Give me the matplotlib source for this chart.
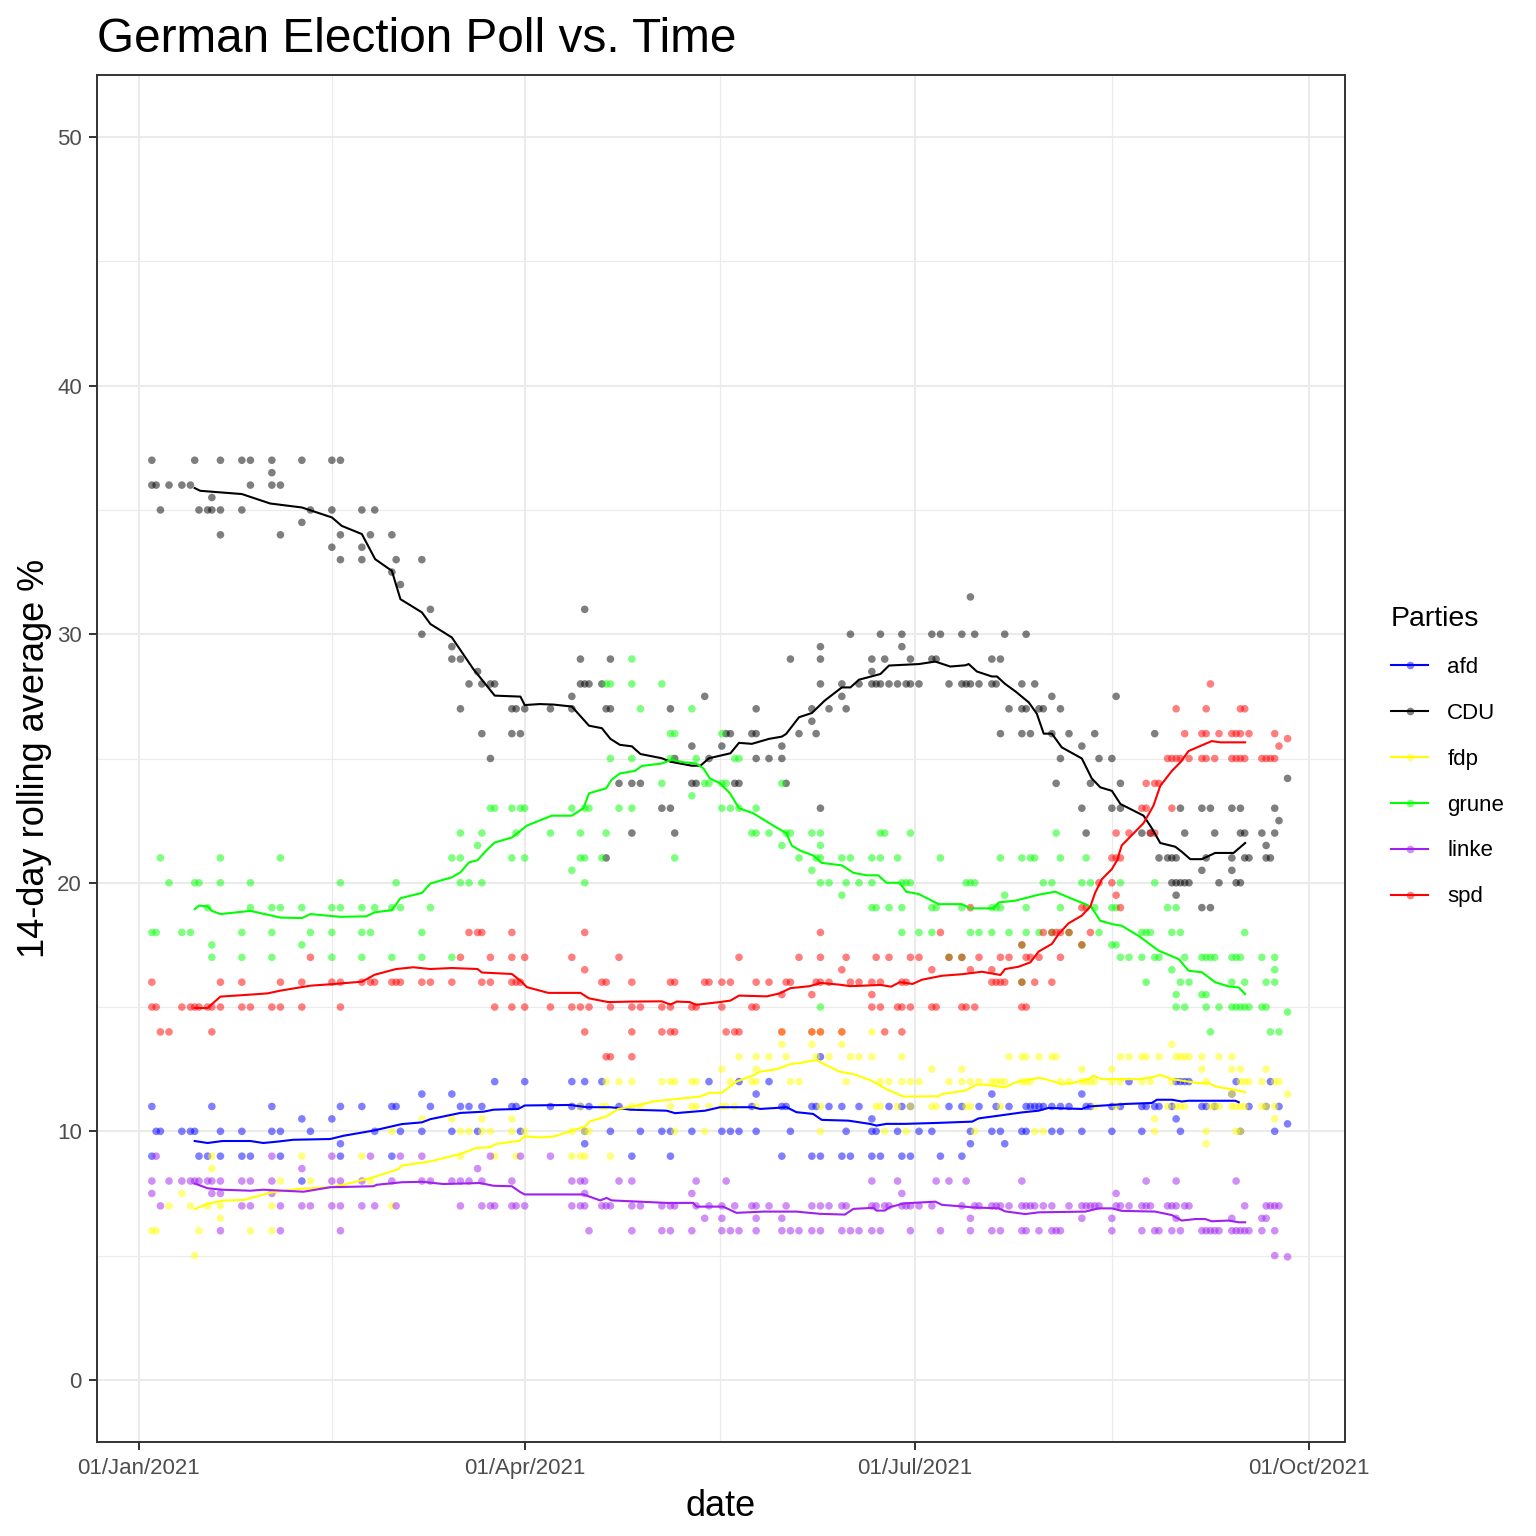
import numpy as np
import pandas as pd
import matplotlib
matplotlib.use("Agg")
import matplotlib.pyplot as plt
import matplotlib.dates as mdates
from matplotlib.lines import Line2D

plt.rcParams["font.family"] = ["Liberation Sans", "DejaVu Sans"]

# poll results: {poll value: [days after 01/Jan/2021]}
afd_polls = {
    13: [159],
    12: [83, 90, 101, 104, 108, 133, 140, 147, 231, 242, 243, 244, 245, 256, 264],
    11.5: [66, 73, 144, 199, 220, 255],
    11: [3, 17, 31, 47, 52, 59, 60, 68, 75, 77, 80, 87, 88, 96, 101, 103, 105, 112, 143, 150,
         151, 157, 158, 161, 164, 168, 175, 178, 180, 189, 192, 196, 200, 203, 207, 208, 209,
         210, 211, 213, 215, 217, 221, 222, 227, 229, 234, 235, 237, 238, 241, 248, 249, 251,
         259, 263, 266],
    10.5: [38, 45, 171, 242],
    10.3: [268],
    10: [4, 5, 10, 12, 13, 19, 24, 31, 33, 40, 55, 61, 66, 73, 79, 89, 104, 110, 117, 122, 124,
         129, 136, 138, 140, 144, 152, 165, 171, 172, 177, 182, 185, 194, 199, 201, 206, 207,
         213, 215, 220, 227, 234, 243, 257, 265],
    9.5: [47, 104, 194, 202],
    9: [3, 14, 16, 19, 24, 26, 33, 47, 59, 115, 124, 150, 157, 159, 164, 166, 171, 173, 178,
        180, 187, 192],
    8: [38],
}

cdu_polls = {
    37: [3, 13, 19, 24, 26, 31, 38, 45, 47],
    36.5: [31],
    36: [3, 4, 7, 10, 12, 26, 31, 33],
    35.5: [17],
    35: [5, 14, 16, 17, 19, 24, 40, 45, 52, 55],
    34.5: [38],
    34: [19, 33, 47, 54, 59],
    33.5: [45, 52],
    33: [47, 52, 60, 66],
    32.5: [59],
    32: [61],
    31.5: [194],
    31: [68, 104],
    30: [66, 166, 173, 178, 185, 187, 192, 195, 202, 207],
    29.5: [73, 159, 178],
    29: [73, 75, 103, 110, 152, 159, 171, 174, 180, 185, 186, 199, 201],
    28.5: [79, 171],
    28: [77, 80, 82, 83, 103, 104, 105, 108, 159, 164, 168, 171, 172, 173, 175, 177, 179, 180,
         182, 189, 192, 193, 194, 196, 199, 200, 206, 209],
    27.5: [101, 132, 164, 213, 228],
    27: [75, 87, 88, 90, 96, 101, 109, 110, 124, 144, 157, 161, 165, 203, 206, 207, 210, 211, 215],
    26.5: [157],
    26: [80, 87, 89, 137, 138, 143, 144, 154, 158, 201, 206, 208, 213, 217, 223, 237],
    25.5: [129, 136, 150, 220],
    25: [82, 125, 133, 144, 147, 150, 215, 224, 227],
    24.2: [268],
    24: [112, 115, 117, 129, 130, 139, 140, 151, 214, 222, 229],
    23: [122, 124, 159, 220, 227, 229, 243, 248, 250, 255, 257, 265],
    22.5: [266],
    22: [115, 125, 221, 234, 236, 244, 251, 257, 258, 262, 265],
    21.5: [263],
    21: [109, 238, 240, 241, 242, 249, 255, 258, 259, 263, 264],
    20.5: [248, 255],
    20: [241, 242, 243, 244, 245, 252, 256, 257],
    19.5: [242],
    19: [248, 250],
}

fdp_polls = {
    14: [150, 157, 159, 164, 171],
    13.5: [150, 157, 164, 241],
    13: [140, 144, 147, 151, 158, 161, 166, 168, 171, 178, 203, 206, 207, 210, 213, 214, 229,
         231, 234, 235, 238, 242, 243, 244, 245, 248, 252, 255],
    12.5: [136, 144, 185, 192, 220, 227, 248, 255, 257, 263],
    12: [109, 112, 115, 122, 124, 125, 129, 130, 138, 143, 144, 152, 154, 165, 173, 175, 178,
         180, 182, 189, 192, 194, 196, 199, 200, 201, 202, 206, 207, 208, 215, 217, 220, 221,
         222, 223, 227, 229, 234, 236, 241, 249, 257, 258, 259, 262, 265, 266],
    11.5: [255, 268],
    11: [103, 108, 109, 115, 117, 124, 129, 130, 133, 136, 137, 139, 144, 159, 172, 173, 177,
         180, 185, 186, 193, 194, 201, 223, 228, 240, 242, 243, 244, 250, 251, 252, 255, 256,
         257, 258, 262, 263, 265],
    10.5: [66, 73, 80, 87, 237, 265],
    10: [59, 75, 77, 80, 82, 87, 90, 101, 104, 105, 125, 132, 159, 174, 179, 195, 209, 211,
         237, 249, 256, 257],
    9.5: [249],
    9: [17, 38, 52, 75, 83, 88, 101, 103, 104, 110],
    8.5: [17],
    8: [33, 40, 54],
    7.5: [10],
    7: [7, 12, 16, 19, 31, 59],
    6.5: [19],
    6: [3, 4, 14, 26, 31],
    5: [13],
}

grune_polls = {
    29: [115],
    28: [109, 110, 115, 122],
    27: [117, 129],
    26: [124, 125, 136],
    25: [110, 115, 124, 130, 139, 140],
    24: [122, 132, 133, 136, 137, 150],
    23.5: [129],
    23: [82, 83, 87, 89, 90, 101, 104, 105, 112, 115, 136, 138, 140, 144],
    22: [75, 80, 88, 96, 103, 109, 143, 144, 147, 151, 152, 157, 159, 173, 174, 180, 214],
    21.5: [79, 150, 159],
    21: [5, 19, 33, 73, 75, 87, 90, 103, 104, 108, 125, 154, 158, 159, 164, 166, 171, 173, 177,
         187, 201, 206, 208, 209, 215, 221],
    20.5: [101, 157],
    20: [7, 13, 14, 19, 26, 47, 60, 75, 77, 80, 104, 159, 161, 165, 168, 171, 178, 179, 180,
         193, 194, 195, 211, 213, 220, 222, 229, 237],
    19.5: [164, 202],
    19: [16, 26, 31, 33, 38, 45, 47, 52, 55, 59, 61, 68, 171, 172, 175, 178, 185, 186, 192, 199,
         200, 201, 207, 215, 223, 227, 228, 240, 242],
    18: [3, 4, 10, 12, 24, 31, 40, 45, 52, 54, 66, 178, 182, 185, 194, 196, 199, 203, 207, 210,
         213, 217, 224, 234, 235, 236, 241, 243, 258],
    17.5: [17, 38, 206, 220, 227, 228],
    17: [17, 24, 31, 45, 52, 59, 66, 73, 189, 192, 229, 231, 234, 237, 238, 244, 248, 249, 250,
         251, 255, 256, 257, 262, 265],
    16.5: [241, 265],
    16: [206, 235, 243, 245, 255, 258, 263, 265],
    15.5: [242, 248, 249],
    15: [159, 242, 244, 249, 252, 255, 256, 257, 258, 259, 262, 263],
    14.8: [268],
    14: [250, 264, 266],
}

linke_polls = {
    9: [4, 31, 45, 54, 61, 66, 82, 89, 96],
    8.5: [38, 79],
    8: [3, 7, 10, 12, 13, 14, 16, 17, 19, 24, 26, 31, 45, 47, 52, 59, 66, 68, 73, 75, 77, 80,
        87, 101, 103, 104, 112, 115, 130, 137, 171, 177, 186, 189, 193, 206, 235, 242, 256],
    7.5: [3, 17, 19, 31, 104, 129, 178, 228],
    7: [5, 24, 26, 33, 38, 40, 45, 47, 52, 55, 60, 75, 80, 82, 83, 87, 88, 90, 101, 103, 104,
        108, 109, 110, 115, 117, 122, 124, 125, 130, 133, 136, 139, 143, 144, 147, 151, 157,
        159, 161, 164, 165, 171, 172, 174, 175, 178, 179, 180, 182, 185, 192, 195, 196, 199,
        200, 201, 203, 206, 207, 208, 209, 211, 213, 217, 220, 221, 222, 223, 224, 228, 229,
        231, 234, 235, 236, 240, 241, 242, 244, 245, 258, 263, 264, 265, 266],
    6.5: [132, 136, 144, 150, 194, 220, 227, 242, 255, 262, 263],
    6: [19, 33, 47, 105, 115, 122, 124, 129, 136, 138, 140, 144, 150, 152, 154, 157, 159, 164,
        166, 168, 171, 173, 180, 187, 194, 199, 201, 206, 207, 210, 213, 214, 215, 227, 234,
        237, 238, 241, 243, 248, 249, 250, 251, 252, 255, 256, 257, 258, 259, 262, 265],
    5: [265],
    4.95: [268],
}

spd_polls = {
    28: [250],
    27: [242, 249, 257, 258],
    26: [244, 248, 249, 252, 255, 256, 257, 259, 265],
    25.8: [268],
    25.5: [266],
    25: [240, 241, 242, 243, 245, 248, 249, 251, 255, 256, 257, 258, 262, 263, 264, 265],
    24: [235, 237, 238],
    23: [234, 235, 241],
    22: [228, 231, 236, 237],
    21: [227, 228, 229],
    20: [224, 227],
    19.5: [228],
    19: [194, 220, 221, 229],
    18: [77, 79, 80, 87, 104, 159, 187, 211, 213, 214, 215, 217, 222],
    17.5: [206, 220],
    17: [40, 75, 82, 87, 90, 101, 112, 140, 154, 159, 165, 172, 175, 180, 182, 189, 192, 196,
         201, 203, 207, 208, 210, 215],
    16.5: [104, 164, 185, 194, 199],
    16: [3, 19, 24, 33, 38, 45, 47, 52, 54, 55, 59, 60, 61, 66, 68, 73, 80, 82, 87, 88, 89,
         108, 109, 115, 124, 125, 132, 133, 136, 138, 144, 147, 151, 152, 158, 159, 161, 166,
         168, 171, 173, 178, 179, 199, 200, 201, 202, 206, 209, 213],
    15.5: [150, 157, 171],
    15: [3, 4, 10, 12, 13, 14, 16, 17, 19, 24, 26, 31, 33, 38, 47, 83, 87, 90, 96, 101, 103,
         105, 110, 115, 117, 122, 124, 129, 130, 136, 143, 144, 171, 173, 177, 178, 180, 185,
         186, 192, 193, 195, 206, 207],
    14: [5, 7, 17, 104, 115, 122, 124, 125, 137, 139, 140, 150, 157, 159, 164, 174, 178],
    13: [109, 110, 115],
}

# 14-day rolling averages: (day, value)
afd_avg = [(13, 9.61), (16, 9.53), (19.5, 9.61), (26, 9.61), (29, 9.53), (32, 9.58), (36, 9.66),
           (44.6, 9.69), (47.7, 9.82), (54.7, 10.03), (61.3, 10.29), (66, 10.36), (68, 10.49),
           (75, 10.74), (80.4, 10.79), (82.7, 10.87), (88.5, 10.9), (90, 11.04), (100.6, 11.06),
           (104.5, 10.97), (109.9, 10.97), (112.2, 10.93), (114.6, 10.87), (123.1, 10.83),
           (125.1, 10.73), (132.1, 10.83), (135.6, 10.97), (143.3, 10.97), (144.9, 10.9),
           (149.6, 10.95), (151.1, 10.97), (153.4, 10.77), (157.3, 10.7), (159.3, 10.46),
           (165.5, 10.43), (170.5, 10.3), (172.1, 10.23), (174.4, 10.3), (178.8, 10.3),
           (186.6, 10.34), (194.4, 10.39), (195.9, 10.52), (200.6, 10.63), (206, 10.76),
           (209.9, 10.83), (212.2, 10.94), (220, 10.9), (221.6, 11.0), (227, 11.06),
           (230.1, 11.1), (236.3, 11.14), (237.5, 11.27), (241, 11.27), (243.3, 11.2),
           (244.9, 11.23), (255.8, 11.23), (256.6, 11.17)]

cdu_avg = [(13, 35.88), (14.3, 35.77), (24, 35.64), (30.6, 35.26), (38, 35.1), (45, 34.7),
           (47.3, 34.36), (52, 34.03), (55.1, 33.02), (59, 32.55), (61, 31.41), (66, 30.88),
           (68, 30.41), (73, 29.87), (78, 28.6), (83, 27.53), (89, 27.49), (90, 27.15),
           (93.5, 27.19), (96.7, 27.17), (101, 27.09), (105, 26.32), (108, 26.22), (110, 25.79),
           (112.2, 25.55), (115, 25.49), (117, 25.18), (122, 25.01), (124, 24.87), (129, 24.71),
           (131, 24.71), (133, 25.01), (138, 25.21), (140, 25.63), (143, 25.59), (147, 25.79),
           (150, 25.88), (151, 25.99), (154, 26.66), (157, 26.83), (160, 27.33), (164, 27.86),
           (166, 27.86), (168, 28.17), (173, 28.4), (175, 28.74), (182, 28.8), (185.8, 28.9),
           (189.3, 28.7), (192.8, 28.75), (193.6, 28.8), (195.5, 28.5), (199, 28.3),
           (200.2, 28.3), (202.1, 28.0), (204.5, 27.7), (207.6, 27.26), (209.5, 26.8),
           (211.1, 26.0), (213, 26.0), (215.3, 25.45), (220, 25.0), (222.3, 24.2),
           (224.3, 23.84), (227, 23.7), (229, 23.17), (231.3, 22.97), (234.4, 22.7),
           (236.3, 22.2), (238.3, 21.6), (241.8, 21.45), (243.3, 21.25), (245.3, 20.95),
           (248, 20.95), (251.1, 21.2), (255.4, 21.2), (258.1, 21.6)]

fdp_avg = [(13, 6.87), (16, 7.08), (19.5, 7.21), (24.5, 7.24), (30.8, 7.54), (37, 7.68),
           (44.6, 7.75), (47.7, 7.85), (54.7, 8.15), (60.5, 8.48), (61.3, 8.62), (68, 8.79),
           (75, 9.09), (78.7, 9.33), (81.8, 9.36), (83.3, 9.49), (88.8, 9.62), (90, 9.8),
           (93.6, 9.75), (97, 9.8), (100.6, 10.0), (104.1, 10.2), (105.2, 10.4), (109.1, 10.6),
           (111.8, 10.9), (115.3, 11.0), (120, 11.2), (125.4, 11.3), (130.9, 11.4),
           (133.2, 11.55), (136, 11.55), (139.4, 12.0), (143.3, 12.25), (144.9, 12.4),
           (148.8, 12.5), (151.9, 12.7), (154.2, 12.75), (158.1, 12.87), (159.3, 12.75),
           (163.5, 12.4), (166.7, 12.3), (170.9, 12.04), (174.4, 11.7), (178.3, 11.4),
           (186.6, 11.41), (187.4, 11.5), (192.8, 11.64), (195.5, 11.88), (197.5, 11.88),
           (199, 11.84), (202.1, 11.77), (204.5, 11.97), (209.9, 12.15), (211.5, 12.1),
           (215.3, 11.9), (217.7, 11.94), (221.6, 12.1), (222.7, 12.24), (224.7, 12.1),
           (233.2, 12.1), (236.3, 12.17), (238.3, 12.27), (241, 12.1), (247.2, 11.94),
           (249.6, 11.94), (251.1, 11.81), (254.6, 11.7), (256.6, 11.64), (258.1, 11.57)]

grune_avg = [(13, 18.94), (14, 19.08), (16, 19.05), (17, 18.87), (19, 18.74), (26, 18.87),
             (33, 18.6), (38, 18.58), (40, 18.74), (47, 18.63), (53, 18.65), (55, 18.81),
             (59, 18.9), (61, 19.38), (66, 19.59), (68, 19.97), (73, 20.22), (75, 20.42),
             (77, 20.82), (79, 20.91), (81, 21.29), (83, 21.62), (87, 21.82), (89, 22.09),
             (90.5, 22.3), (96.3, 22.7), (101, 22.7), (103.7, 23.0), (105, 23.6), (109, 23.8),
             (110.3, 24.15), (112.2, 24.4), (115.7, 24.5), (117.3, 24.7), (122, 24.8),
             (124.3, 24.95), (127, 24.85), (130, 24.8), (131.7, 24.6), (133.2, 24.2),
             (135.6, 24.0), (137.9, 23.6), (140, 23.0), (143.3, 22.8), (148, 22.3), (151, 22.0),
             (152.3, 21.5), (154.2, 21.3), (157.3, 21.1), (159.3, 20.8), (164, 20.7),
             (166.7, 20.4), (169.8, 20.3), (172.5, 20.3), (174.4, 20.0), (177.5, 20.0),
             (179, 19.64), (181.9, 19.55), (186.6, 19.14), (192, 19.14), (194, 18.97),
             (199.4, 18.97), (200.6, 19.21), (204.5, 19.28), (209.9, 19.52), (213.8, 19.64),
             (216.9, 19.41), (220.8, 19.14), (222.3, 19.0), (224.3, 18.47), (227, 18.34),
             (229.3, 18.27), (233.2, 17.87), (237.9, 17.27), (242.6, 16.93), (244.9, 16.46),
             (248, 16.4), (251.1, 16.0), (254.2, 15.83), (256.6, 15.79), (258.1, 15.52)]

linke_avg = [(13, 7.9), (16, 7.71), (19.5, 7.65), (26, 7.61), (29, 7.65), (38.4, 7.57),
             (44.6, 7.75), (54.7, 7.79), (55.5, 7.85), (61.3, 7.95), (66, 7.97), (71, 7.88),
             (79.6, 7.92), (82.7, 7.81), (87, 7.79), (89, 7.55), (90, 7.46), (103.7, 7.46),
             (107.6, 7.22), (109.1, 7.32), (110.3, 7.22), (123.1, 7.12), (129.3, 7.12),
             (130.1, 6.97), (136.3, 6.97), (139.4, 6.72), (145.7, 6.77), (153.4, 6.77),
             (158.9, 6.68), (164.7, 6.65), (166.7, 6.88), (171.3, 6.92), (172.1, 6.81),
             (174, 6.81), (175.2, 6.95), (178.5, 7.1), (185.8, 7.17), (187.4, 7.04),
             (192, 6.98), (194.4, 6.94), (200.6, 6.9), (202.1, 6.78), (206.8, 6.67),
             (209.9, 6.74), (220.8, 6.77), (223.9, 6.9), (227, 6.9), (229.3, 6.8),
             (237.1, 6.77), (241, 6.63), (243.3, 6.41), (246.5, 6.47), (248.8, 6.47),
             (250.3, 6.38), (254.2, 6.41), (256.6, 6.34), (258.1, 6.34)]

spd_avg = [(13, 14.96), (16, 14.96), (19, 15.42), (26, 15.5), (30, 15.55), (33, 15.66),
           (40, 15.86), (45, 15.92), (52, 16.02), (55, 16.3), (60, 16.53), (64, 16.6),
           (68, 16.53), (73, 16.57), (79, 16.53), (80, 16.39), (87, 16.33), (89, 16.06),
           (90.5, 15.8), (95.5, 15.57), (103, 15.57), (105, 15.35), (109.5, 15.2), (115, 15.22),
           (122, 15.23), (124, 15.1), (125.5, 15.22), (128.5, 15.2), (130, 15.09), (135.5, 15.2),
           (138, 15.26), (140, 15.46), (146.5, 15.43), (149.5, 15.55), (152, 15.76),
           (156.5, 15.84), (159, 15.97), (163.5, 15.9), (166, 15.84), (169, 15.86),
           (173, 15.89), (175.5, 15.82), (177.5, 16.0), (180.5, 15.93), (182.7, 16.1),
           (187.4, 16.26), (192, 16.32), (196.7, 16.42), (201, 16.29), (202.1, 16.53),
           (205.2, 16.62), (208, 16.8), (209.9, 17.23), (213, 17.54), (214.6, 17.94),
           (216.9, 18.37), (220, 18.68), (222, 19.05), (223.1, 19.6), (224.7, 20.15),
           (227, 20.55), (228.2, 20.9), (229.3, 21.5), (234.4, 22.4), (236.7, 23.1),
           (238.3, 23.9), (241, 24.5), (243, 24.85), (244.9, 25.3), (250.3, 25.7),
           (252.3, 25.65), (258.1, 25.65)]

parties = ["afd", "CDU", "fdp", "grune", "linke", "spd"]
colors = ["#0000FF", "#000000", "#FFFF00", "#00FF00", "#A020F0", "#FF0000"]
polls = [afd_polls, cdu_polls, fdp_polls, grune_polls, linke_polls, spd_polls]
averages = [afd_avg, cdu_avg, fdp_avg, grune_avg, linke_avg, spd_avg]

start = pd.Timestamp("2021-01-01")


def to_dates(days):
    return start + pd.to_timedelta(np.asarray(days, dtype=float), unit="D")


fig = plt.figure(figsize=(15.36, 15.36), dpi=100)
W = H = 1536.0
ax = fig.add_axes([97 / W, 1 - 1442 / H, (1345 - 97) / W, (1442 - 75) / H])

for name, col, pts in zip(parties, colors, polls):
    days, vals = [], []
    for v, ds in pts.items():
        days.extend(ds)
        vals.extend([v] * len(ds))
    ax.scatter(to_dates(days), vals, s=30, color=col, alpha=0.5,
               edgecolors="none", zorder=2)

for name, col, avg in zip(parties, colors, averages):
    d, v = zip(*avg)
    ax.plot(to_dates(d), v, color=col, lw=1.5, zorder=3)

# axes styling (ggplot theme_bw look)
ax.set_xlim(to_dates([-9.8])[0], to_dates([281.4])[0])
ax.set_ylim(-2.5, 52.5)

major_dates = pd.to_datetime(["2021-01-01", "2021-04-01", "2021-07-01", "2021-10-01"])
major_num = mdates.date2num(major_dates)
ax.set_xticks(major_num)
ax.xaxis.set_major_formatter(mdates.DateFormatter("%d/%b/%Y"))
ax.set_xticks((major_num[:-1] + major_num[1:]) / 2, minor=True)
ax.set_yticks([0, 10, 20, 30, 40, 50])
ax.set_yticks([5, 15, 25, 35, 45], minor=True)

ax.grid(which="major", color="#EBEBEB", lw=1.5, zorder=0)
ax.grid(which="minor", color="#EBEBEB", lw=0.8, zorder=0)
ax.set_axisbelow(True)
for sp in ax.spines.values():
    sp.set_color("#333333")
    sp.set_linewidth(1.4)

ax.tick_params(which="major", length=5.8, width=1.4, color="#333333",
               labelcolor="#4D4D4D", labelsize=16)
ax.tick_params(axis="x", which="major", pad=6)
ax.tick_params(axis="y", which="major", pad=5)
ax.tick_params(which="minor", length=0)

ax.set_xlabel("date", fontsize=26, labelpad=7)
ax.set_ylabel("14-day rolling average %", fontsize=26, labelpad=4)

fig.text(97 / W, 1 - 52 / H, "German Election Poll vs. Time", fontsize=34.4,
         ha="left", va="baseline")

handles = [Line2D([], [], color=c, lw=1.5, marker="o", markersize=5.5,
                  markerfacecolor=matplotlib.colors.to_rgba(c, 0.5),
                  markeredgecolor="none") for c in colors]
leg = fig.legend(handles, parties, title="Parties", loc="upper left",
                 bbox_to_anchor=(1391 / W, 1 - 606 / H), frameon=False,
                 fontsize=16, title_fontsize=20.5, alignment="left",
                 handlelength=1.67, handletextpad=0.86, labelspacing=1.12,
                 borderpad=0, borderaxespad=0)

fig.savefig("out.png", dpi=100)
